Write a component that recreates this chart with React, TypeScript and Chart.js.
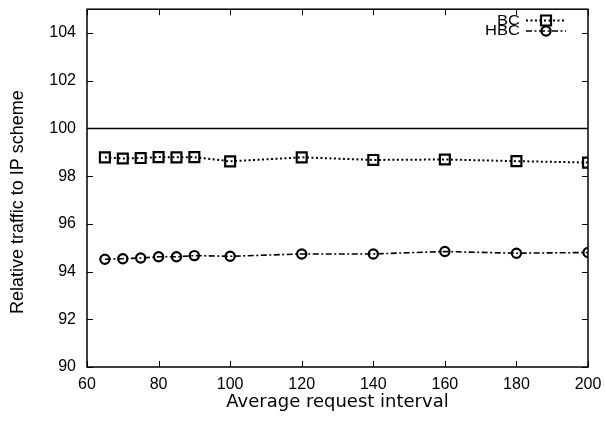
import React, { useEffect, useRef } from "react";
import { Chart, registerables } from "chart.js";

Chart.register(...registerables);

const intervals = [65, 70, 75, 80, 85, 90, 100, 120, 140, 160, 180, 200];
const bcValues = [98.79, 98.74, 98.76, 98.8, 98.79, 98.8, 98.62, 98.79, 98.68, 98.7, 98.63, 98.57];
const hbcValues = [94.52, 94.54, 94.57, 94.62, 94.62, 94.67, 94.64, 94.74, 94.74, 94.84, 94.77, 94.8];
const seriesNames = ["BC", "HBC"];
const referenceLevel = 100;
const xTitle = "Average request interval";
const yTitle = "Relative traffic to IP scheme";

const FONT = "'Liberation Sans', Arial, Helvetica, sans-serif";
const WIDE_FONT = "'DejaVu Sans', sans-serif";
const BC_DASH = [2, 2.5];
const HBC_DASH = [6, 2.5, 2, 2.5];

const framePlugin = {
  id: "gnuframe",
  beforeDatasetsDraw(chart: any) {
    const { ctx, chartArea } = chart;
    const y = chart.scales.y.getPixelForValue(referenceLevel);
    ctx.save();
    ctx.strokeStyle = "#000";
    ctx.lineWidth = 1.5;
    ctx.beginPath();
    ctx.moveTo(chartArea.left, y);
    ctx.lineTo(chartArea.right, y);
    ctx.stroke();
    ctx.restore();
  },
  afterDraw(chart: any) {
    const { ctx, chartArea } = chart;
    const { left, right, top, bottom } = chartArea;
    const xs = chart.scales.x;
    const ys = chart.scales.y;
    ctx.save();
    ctx.strokeStyle = "#000";
    ctx.lineWidth = 1.5;
    ctx.setLineDash([]);
    ctx.strokeRect(left, top, right - left, bottom - top);
    ctx.lineWidth = 1;
    const tl = 6;
    ctx.beginPath();
    xs.ticks.forEach((t: any) => {
      const px = Math.round(xs.getPixelForValue(t.value)) + 0.5;
      ctx.moveTo(px, bottom);
      ctx.lineTo(px, bottom - tl);
      ctx.moveTo(px, top);
      ctx.lineTo(px, top + tl);
    });
    ys.ticks.forEach((t: any) => {
      const py = Math.round(ys.getPixelForValue(t.value)) + 0.5;
      ctx.moveTo(left, py);
      ctx.lineTo(left + tl, py);
      ctx.moveTo(right, py);
      ctx.lineTo(right - tl, py);
    });
    ctx.stroke();

    // y axis title
    ctx.fillStyle = "#000";
    ctx.font = `18px ${FONT}`;
    ctx.textAlign = "center";
    ctx.textBaseline = "middle";
    ctx.save();
    ctx.translate(18, (top + bottom) / 2 + 14);
    ctx.rotate(-Math.PI / 2);
    ctx.fillText(yTitle, 0, 0);
    ctx.restore();

    // legend (gnuplot style)
    const rows = [
      { label: seriesNames[0], dash: BC_DASH, marker: "rect", lw: 2 },
      { label: seriesNames[1], dash: HBC_DASH, marker: "circle", lw: 1.6 },
    ];
    ctx.font = `14px ${FONT}`;
    ctx.textAlign = "right";
    rows.forEach((r, i) => {
      const cy = 20.5 + i * 10.5;
      ctx.save();
      ctx.translate(520, cy + 0.5);
      ctx.scale(1.18, 1);
      ctx.fillText(r.label, 0, 0);
      ctx.restore();
      ctx.beginPath();
      ctx.setLineDash(r.dash);
      ctx.lineWidth = r.lw;
      ctx.moveTo(526, cy);
      ctx.lineTo(566, cy);
      ctx.stroke();
      ctx.setLineDash([]);
      ctx.lineWidth = 2.2;
      ctx.beginPath();
      if (r.marker === "rect") {
        ctx.rect(546 - 5, cy - 5, 10, 10);
      } else {
        ctx.arc(546, cy, 4.6, 0, Math.PI * 2);
      }
      ctx.stroke();
    });
    ctx.restore();
  },
};

export default function App() {
  const ref = useRef<HTMLCanvasElement>(null);
  useEffect(() => {
    document.body.style.margin = "0";
    const canvas = ref.current!;
    const chart = new Chart(canvas, {
      type: "line",
      data: {
        datasets: [
          {
            label: seriesNames[0],
            data: intervals.map((x, i) => ({ x, y: bcValues[i] })),
            borderColor: "#000",
            borderWidth: 2,
            borderDash: BC_DASH,
            pointStyle: "rect",
            pointRadius: 7,
            pointBorderWidth: 2.2,
            pointBorderColor: "#000",
            pointBackgroundColor: "rgba(0,0,0,0)",
            fill: false,
            tension: 0,
          },
          {
            label: seriesNames[1],
            data: intervals.map((x, i) => ({ x, y: hbcValues[i] })),
            borderColor: "#000",
            borderWidth: 1.6,
            borderDash: HBC_DASH,
            pointStyle: "circle",
            pointRadius: 4.6,
            pointBorderWidth: 2.2,
            pointBorderColor: "#000",
            pointBackgroundColor: "rgba(0,0,0,0)",
            fill: false,
            tension: 0,
          },
        ],
      },
      options: {
        animation: false,
        responsive: false,
        devicePixelRatio: 1,
        layout: { padding: { top: 8, right: 17, left: 0, bottom: 0 } },
        plugins: { legend: { display: false }, tooltip: { enabled: false } },
        scales: {
          x: {
            type: "linear",
            min: 60,
            max: 200,
            grid: { display: false, drawTicks: false },
            border: { display: false },
            ticks: { stepSize: 20, padding: 8, color: "#000", font: { family: FONT, size: 16 }, maxRotation: 0 },
            title: {
              display: true,
              text: xTitle,
              color: "#000",
              font: { family: WIDE_FONT, size: 18 },
              padding: { top: 0, bottom: 13 },
            },
            afterFit: (s: any) => {
              s.height = 59;
              s.paddingLeft = 0;
              s.paddingRight = 0;
            },
          },
          y: {
            type: "linear",
            min: 90,
            max: 105,
            grid: { display: false, drawTicks: false },
            border: { display: false },
            ticks: { stepSize: 2, padding: 11, color: "#000", font: { family: FONT, size: 16 } },
            afterBuildTicks: (s: any) => {
              s.ticks = s.ticks.filter((t: any) => t.value <= 104);
            },
            afterFit: (s: any) => {
              s.width = 87;
              s.paddingTop = 0;
              s.paddingBottom = 0;
            },
          },
        },
      },
      plugins: [framePlugin],
    });
    return () => chart.destroy();
  }, []);
  return (
    <div style={{ width: 605, height: 426 }}>
      <canvas ref={ref} width={605} height={426} />
    </div>
  );
}
